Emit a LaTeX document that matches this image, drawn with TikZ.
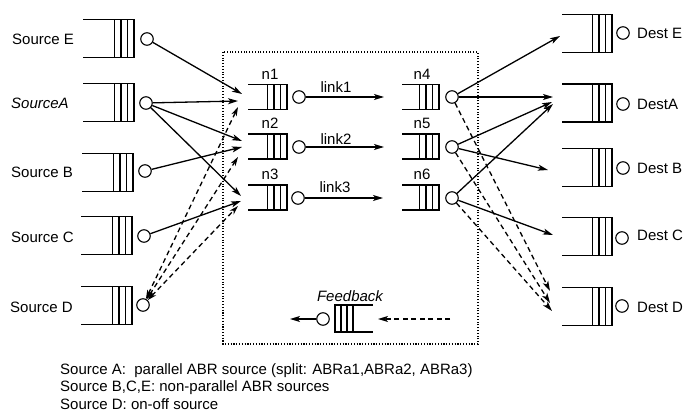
\documentclass[tikz,border=0pt]{standalone}
\usepackage{fontspec}
\setmainfont{Liberation Sans}
\usetikzlibrary{arrows.meta}

% queue open on the left, three cells at its right end:
% #1 left x, #2 right x, #3 centre y, #4 half height
\newcommand{\queueopenleft}[4]{%
  \draw[qline] (#1,#3-#4) -- (#2,#3-#4) -- (#2,#3+#4) -- (#1,#3+#4);
  \foreach \k in {1,2,3} \draw[qline] (#2-\k*6.5,#3-#4) -- (#2-\k*6.5,#3+#4);
}
% queue open on the right, three cells at its left end
\newcommand{\queueopenright}[4]{%
  \draw[qline] (#2,#3-#4) -- (#1,#3-#4) -- (#1,#3+#4) -- (#2,#3+#4);
  \foreach \k in {1,2,3} \draw[qline] (#1+\k*6,#3-#4) -- (#1+\k*6,#3+#4);
}

\begin{document}
\begin{tikzpicture}[x=1pt,y=-1pt,
  qline/.style={line width=1.2pt},
  port/.style={circle,draw,line width=1.1pt,minimum size=12.5pt,inner sep=0pt},
  lbl/.style={font=\fontsize{15}{18}\selectfont,inner sep=0pt},
  flow/.style={line width=1.3pt,-{Stealth[length=10pt,width=6pt,inset=2.5pt]}},
  dflow/.style={flow,dash pattern=on 5pt off 3.5pt},
  biflow/.style={dflow,{Stealth[length=9pt,width=5.5pt,inset=2.5pt]}-{Stealth[length=9pt,width=5.5pt,inset=2.5pt]}},
  frame/.style={line width=1.3pt,dash pattern=on 1.1pt off 1.7pt}
]
\useasboundingbox (0,0) rectangle (685,414);

% ---------- network boundary ----------
\draw[frame] (223,52) rectangle (478,344);

% ---------- sources ----------
\queueopenleft{83}{134}{38.5}{19}
\queueopenleft{83}{134}{102.5}{19}
\queueopenleft{82}{133}{172.5}{19}
\queueopenleft{81}{132}{235.5}{19}
\queueopenleft{81}{132}{305.5}{19}
\node[port] (sE) at (147,39) {};
\node[port] (sA) at (146,103) {};
\node[port] (sB) at (145,171) {};
\node[port] (sC) at (144,236) {};
\node[port] (sD) at (143,305) {};
\node[lbl,anchor=west] (lE) at (12,39) {Source E};
\node[lbl,anchor=west] (lA) at (11,103) {\itshape SourceA};
\node[lbl,anchor=west] (lB) at (11,172) {Source B};
\node[lbl,anchor=west] (lC) at (11,237) {Source C};
\node[lbl,anchor=west] (lD) at (10,307) {Source D};

% ---------- destinations ----------
\queueopenleft{562}{612}{33.5}{19}
\queueopenleft{562}{612}{103}{19}
\queueopenleft{562}{612}{167.5}{19}
\queueopenleft{562}{612}{236.5}{19}
\queueopenleft{562}{612}{306.5}{19}
\node[port] (dE) at (623,33) {};
\node[port] (dA) at (623,104) {};
\node[port] (dB) at (623,168) {};
\node[port] (dC) at (622,238) {};
\node[port] (dD) at (622,306) {};
\node[lbl,anchor=west] (ldE) at (637,33) {Dest E};
\node[lbl,anchor=west] (ldA) at (637,104) {DestA};
\node[lbl,anchor=west] (ldB) at (637,168) {Dest B};
\node[lbl,anchor=west] (ldC) at (637,235) {Dest C};
\node[lbl,anchor=west] (ldD) at (637,307) {Dest D};

% ---------- switch queues ----------
\queueopenleft{248}{287}{97}{12.5}
\queueopenleft{248}{287}{146.5}{12.5}
\queueopenleft{248}{287}{197.5}{12.5}
\queueopenleft{402}{439}{97}{12.5}
\queueopenleft{402}{439}{146.5}{12.5}
\queueopenleft{402}{439}{197.5}{12.5}
\node[port] (n1) at (299,97) {};
\node[port] (n2) at (299,147) {};
\node[port] (n3) at (298,198) {};
\node[port] (n4) at (452,97) {};
\node[port] (n5) at (452,147) {};
\node[port] (n6) at (452,198) {};
\node[lbl] (ln1) at (270,74) {n1};
\node[lbl] (ln2) at (270,123) {n2};
\node[lbl] (ln3) at (270,174) {n3};
\node[lbl] (ln4) at (422,74) {n4};
\node[lbl] (ln5) at (422,123) {n5};
\node[lbl] (ln6) at (422,174) {n6};

% links between switches
\coordinate (k1) at (384,97);
\coordinate (k2) at (384,147);
\coordinate (k3) at (383,198);
\draw[flow] (n1) -- (k1);
\draw[flow] (n2) -- (k2);
\draw[flow] (n3) -- (k3);
\node[lbl] (lk1) at (336,87) {link1};
\node[lbl] (lk2) at (336,139) {link2};
\node[lbl] (lk3) at (335,187) {link3};

% ---------- entry points of the first-stage queues ----------
\coordinate (a1) at (242,94);  \coordinate (b1) at (238,101); \coordinate (c1) at (238,107);
\coordinate (a2) at (242,141); \coordinate (b2) at (242,147); \coordinate (c2) at (238,157);
\coordinate (a3) at (241,196); \coordinate (b3) at (241,201); \coordinate (c3) at (238,206);

\draw[flow] (sE) -- (a1);
\draw[flow] (sA) -- (b1);
\draw[flow] (sA) -- (a2);
\draw[flow] (sA) -- (a3);
\draw[flow] (sB) -- (b2);
\draw[flow] (sC) -- (b3);
\draw[biflow] (sD) -- (c1);
\draw[biflow] (sD) -- (c2);
\draw[biflow] (sD) -- (c3);

% ---------- entry points of the destination queues ----------
\coordinate (eE) at (560,36);
\coordinate (eA1) at (553,97);
\coordinate (eA2) at (552,102);
\coordinate (eA3) at (553,104);
\coordinate (eB) at (548,170);
\coordinate (eC) at (553,235);
\coordinate (eD1) at (550,291);
\coordinate (eD2) at (550,303);
\coordinate (eD3) at (552,311);

\draw[flow] (n4) -- (eE);
\draw[flow] (n4) -- (eA1);
\draw[flow] (n5) -- (eA2);
\draw[flow] (n6) -- (eA3);
\draw[flow] (n5) -- (eB);
\draw[flow] (n6) -- (eC);
\draw[dflow] (n4) -- (eD1);
\draw[dflow] (n5) -- (eD2);
\draw[dflow] (n6) -- (eD3);

% ---------- feedback ----------
\queueopenright{335}{373}{318.5}{13.5}
\node[port] (fb) at (323,319) {};
\node[lbl] (lfb) at (350,296) {\itshape Feedback};
\coordinate (fbout) at (290,319);
\coordinate (fbsrc) at (450,319);
\coordinate (fbin) at (378,319);
\draw[flow] (fb) -- (fbout);
\draw[dflow] (fbsrc) -- (fbin);

% ---------- legend ----------
\node[lbl,anchor=west] (t1) at (60,371) {Source A:\ \ parallel ABR source (split: ABRa1,ABRa2, ABRa3)};
\node[lbl,anchor=west] (t2) at (60,388) {Source B,C,E: non-parallel ABR sources};
\node[lbl,anchor=west] (t3) at (60,404) {Source D: on-off source};
\end{tikzpicture}
\end{document}
